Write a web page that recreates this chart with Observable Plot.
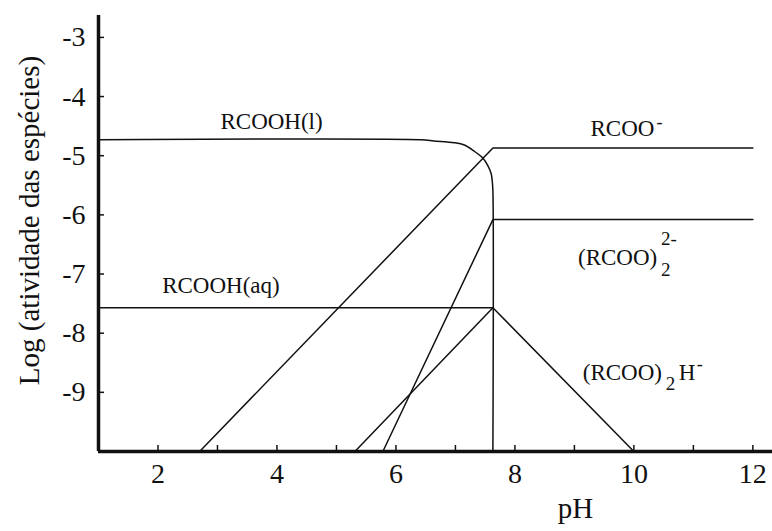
<!DOCTYPE html>
<html>
<head>
<meta charset="utf-8">
<script src="https://cdn.jsdelivr.net/npm/d3@7"></script>
<script src="https://cdn.jsdelivr.net/npm/@observablehq/plot@0.6"></script>
<style>
  html, body { margin: 0; padding: 0; background: #fff; }
</style>
</head>
<body>
<div id="chart"></div>
<script>
// Series: RCOOH(l) solubility boundary (horizontal, then curving down to the vertical at pH 7.63)
const pH_RCOOHl  = [1, 6.42, 6.64, 6.98, 7.15, 7.31, 7.46, 7.54, 7.60, 7.62, 7.63, 7.63];
const log_RCOOHl = [-4.73, -4.73, -4.75, -4.78, -4.82, -4.92, -5.04, -5.16, -5.30, -5.44, -5.60, -10];
// RCOO-
const pH_RCOO  = [2.70, 7.63, 12.0];
const log_RCOO = [-10, -4.87, -4.87];
// (RCOO)2 2-
const pH_dimer  = [5.78, 7.63, 12.0];
const log_dimer = [-10, -6.08, -6.08];
// RCOOH(aq)
const pH_aq  = [1, 7.63];
const log_aq = [-7.57, -7.57];
// (RCOO)2H-
const pH_acid  = [5.31, 7.63, 10.0];
const log_acid = [-10, -7.57, -10];

// Ticks
const xTicks = [1, 2, 3, 4, 5, 6, 7, 8, 9, 10, 11, 12];
const xTickLabels = [2, 4, 6, 8, 10, 12];
const yTicks = [-3, -4, -5, -6, -7, -8, -9];

// Species labels
const labelNames = ["RCOOH(l)", "RCOO", "(RCOO)", "RCOOH(aq)", "(RCOO)"];
const labelPH    = [3.05, 9.27, 9.06, 2.07, 9.14];
const labelLog   = [-4.42, -4.535, -6.72, -7.19, -8.67];

const toRows = (name, xs, ys) => xs.map((x, i) => ({series: name, pH: x, log: ys[i]}));
const straight = [
  ...toRows("RCOO-", pH_RCOO, log_RCOO),
  ...toRows("(RCOO)2 2-", pH_dimer, log_dimer),
  ...toRows("RCOOH(aq)", pH_aq, log_aq),
  ...toRows("(RCOO)2H-", pH_acid, log_acid)
];
const curved = toRows("RCOOH(l)", pH_RCOOHl, log_RCOOHl);
const labels = labelNames.map((t, i) => ({t, pH: labelPH[i], log: labelLog[i]}));

const ink = "#111";
const font = "Liberation Serif";
const txt = (d, opts) => Plot.text(d, {x: "pH", y: "log", textAnchor: "start", fill: ink, fontFamily: font, ...opts});

const chart = Plot.plot({
  width: 772,
  height: 531,
  marginLeft: 98,
  marginRight: 0,
  marginTop: 15,
  marginBottom: 80,
  style: {background: "#fff", color: ink, fontFamily: font},
  x: {domain: [1, 12.33]},
  y: {domain: [-10, -2.63]},
  marks: [
    // inward tick marks
    Plot.axisX({ticks: xTicks, tickSize: -6, tickFormat: () => "", label: null, stroke: ink, strokeWidth: 1.5}),
    Plot.axisY({ticks: yTicks, tickSize: -6, tickFormat: () => "", label: null, stroke: ink, strokeWidth: 1.5}),
    // tick labels
    Plot.axisX({ticks: xTickLabels, tickSize: 0, tickPadding: 12, fontSize: 28, fontFamily: font, label: null, tickFormat: d => String(d)}),
    Plot.axisY({ticks: yTicks, tickSize: 0, tickPadding: 13, fontSize: 28, fontFamily: font, label: null, tickFormat: d => String(d)}),
    // axis lines
    Plot.ruleX([1], {stroke: ink, strokeWidth: 3.5}),
    Plot.ruleY([-10], {stroke: ink, strokeWidth: 3.5}),
    // series
    Plot.line(straight, {x: "pH", y: "log", z: "series", stroke: ink, strokeWidth: 1.5}),
    Plot.line(curved, {x: "pH", y: "log", stroke: ink, strokeWidth: 1.5, curve: "catmull-rom"}),
    // labels
    txt(labels, {text: "t", fontSize: 23}),
    // super/subscripts
    txt([labels[1]], {text: () => "-", fontSize: 18, dx: 66, dy: -6}),
    txt([labels[2]], {text: () => "2-", fontSize: 19, dx: 83, dy: -19}),
    txt([labels[2]], {text: () => "2", fontSize: 19, dx: 83, dy: 12}),
    txt([labels[4]], {text: () => "2", fontSize: 19, dx: 83, dy: 11}),
    txt([labels[4]], {text: () => "H", fontSize: 23, dx: 96, dy: 0}),
    txt([labels[4]], {text: () => "-", fontSize: 18, dx: 114, dy: -9}),
    // axis titles
    Plot.text(["pH"], {frameAnchor: "bottom", text: d => d, fontSize: 29, fontFamily: font, textAnchor: "middle", dx: 140, dy: 66, fill: ink}),
    Plot.text(["Log (atividade das espécies)"], {frameAnchor: "left", text: d => d, fontSize: 29, fontFamily: font, textAnchor: "middle", rotate: -90, dx: -69, dy: -13, fill: ink})
  ]
});
document.getElementById("chart").appendChild(chart);
</script>
</body>
</html>
